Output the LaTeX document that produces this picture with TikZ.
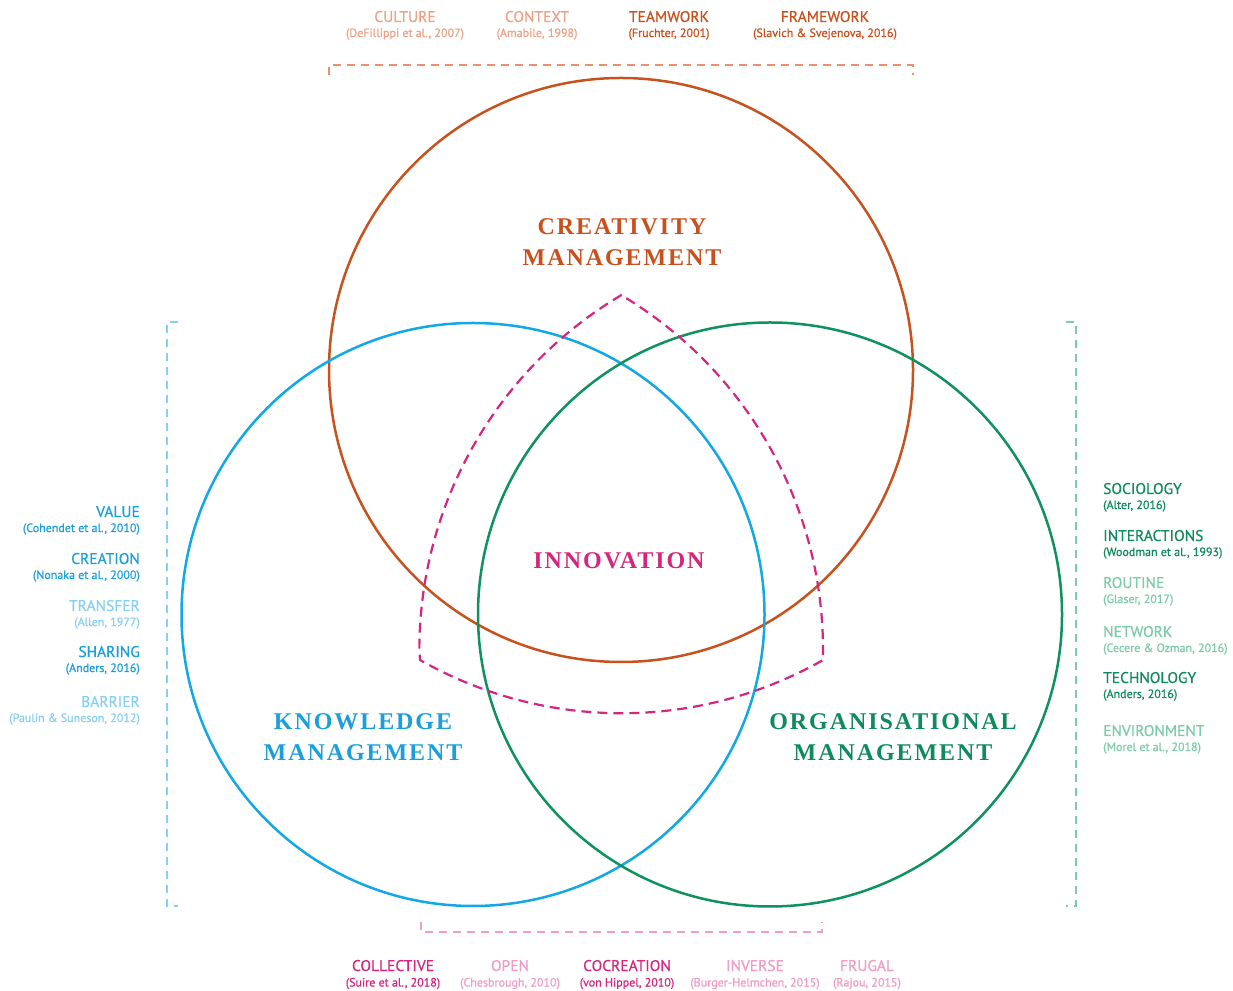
\documentclass[tikz,border=0pt]{standalone}
\usepackage{fontspec}
\setmainfont{PT Sans}
\newfontfamily\headfont[LetterSpace=8]{Liberation Serif}
\newfontfamily\labfont[FakeBold=0.5]{PT Sans}
\newfontfamily\citfont[FakeBold=0.7]{PT Sans}
\definecolor{orangeD}{HTML}{C8521E}
\definecolor{orangeT}{HTML}{C9501C}
\definecolor{orangeL}{HTML}{EBA286}
\definecolor{orangeB}{HTML}{E8916F}
\definecolor{blueD}{HTML}{12A8E8}
\definecolor{blueT}{HTML}{1A9FDA}
\definecolor{blueL}{HTML}{86D0F1}
\definecolor{greenD}{HTML}{0F9160}
\definecolor{greenT}{HTML}{0E8A5C}
\definecolor{greenL}{HTML}{7ECBAA}
\definecolor{pinkD}{HTML}{D5267F}
\definecolor{pinkL}{HTML}{EF9CC9}
\tikzset{
  ttl/.style={font=\labfont\fontsize{15.5}{15.5}\selectfont, inner sep=0pt, anchor=base},
  cit/.style={font=\citfont\fontsize{12}{12}\selectfont, inner sep=0pt, anchor=base},
  hd/.style={font=\headfont\bfseries\fontsize{24}{24}\selectfont, inner sep=0pt, anchor=base},
  toleft/.style={anchor=base east},
  toright/.style={anchor=base west},
  ring/.style={line width=2.5pt},
  brk/.style={line width=1.3pt, dash pattern=on 8pt off 6pt},
}
\begin{document}
\begin{tikzpicture}[x=1pt,y=1pt]
\useasboundingbox (0,0) rectangle (1233,990);
\fill[white] (0,0) rectangle (1233,990);

% circles
\draw[ring, orangeD] (621,620) circle[radius=292pt];
\draw[ring, blueD] (473,375.5) circle[radius=291.5pt];
\draw[ring, greenD] (770,375.5) circle[radius=292pt];

% innovation dashed shape
\draw[pinkD, line width=2.2pt, dash pattern=on 10pt off 6pt, line join=round]
  (621.5,695) arc[start angle=120.7, end angle=180, radius=413pt]
  -- (420,330) arc[start angle=240.4, end angle=299.6, radius=408pt]
  -- (823,340) arc[start angle=0, end angle=59.3, radius=413pt] -- cycle;

% brackets
\draw[brk, orangeB] (329,915) -- (329,925) -- (913,925) -- (913,915);
\draw[brk, blueL] (178,668) -- (167,668) -- (167,84) -- (178,84);
\draw[brk, greenL] (1066,668) -- (1076,668) -- (1076,84) -- (1066,84);
\draw[brk, pinkL] (421,68) -- (421,58) -- (822,58) -- (822,68);

% headings
\node[hd, orangeT] (cr1) at (622,755) {CREATIVITY};
\node[hd, orangeT] (cr2) at (622,724) {MANAGEMENT};
\node[hd, pinkD] (inno) at (619,421) {INNOVATION};
\node[hd, blueT] (kn1) at (363,260) {KNOWLEDGE};
\node[hd, blueT] (kn2) at (363,229) {MANAGEMENT};
\node[hd, greenT] (or1) at (893,260) {ORGANISATIONAL};
\node[hd, greenT] (or2) at (893,229) {MANAGEMENT};

% top labels
\node[ttl, orangeL] (t1) at (405,968) {CULTURE};
\node[cit, orangeL] (t1c) at (405,953) {(DeFillippi et al., 2007)};
\node[ttl, orangeL] (t2) at (537,968) {CONTEXT};
\node[cit, orangeL] (t2c) at (537,953) {(Amabile, 1998)};
\node[ttl, orangeT] (t3) at (669,968) {TEAMWORK};
\node[cit, orangeT] (t3c) at (669,953) {(Fruchter, 2001)};
\node[ttl, orangeT] (t4) at (825,968) {FRAMEWORK};
\node[cit, orangeT] (t4c) at (825,953) {(Slavich \& Svejenova, 2016)};

% left labels
\node[ttl, toleft, blueT] (l1) at (140,473) {VALUE};
\node[cit, toleft, blueT] (l1c) at (140,458) {(Cohendet et al., 2010)};
\node[ttl, toleft, blueT] (l2) at (140,426) {CREATION};
\node[cit, toleft, blueT] (l2c) at (140,411) {(Nonaka et al., 2000)};
\node[ttl, toleft, blueL] (l3) at (140,379) {TRANSFER};
\node[cit, toleft, blueL] (l3c) at (140,364) {(Allen, 1977)};
\node[ttl, toleft, blueT] (l4) at (140,333) {SHARING};
\node[cit, toleft, blueT] (l4c) at (140,318) {(Anders, 2016)};
\node[ttl, toleft, blueL] (l5) at (140,283) {BARRIER};
\node[cit, toleft, blueL] (l5c) at (140,268) {(Paulin \& Suneson, 2012)};

% right labels
\node[ttl, toright, greenT] (r1) at (1103,496) {SOCIOLOGY};
\node[cit, toright, greenT] (r1c) at (1103,481) {(Alter, 2016)};
\node[ttl, toright, greenT] (r2) at (1103,449) {INTERACTIONS};
\node[cit, toright, greenT] (r2c) at (1103,434) {(Woodman et al., 1993)};
\node[ttl, toright, greenL] (r3) at (1103,402) {ROUTINE};
\node[cit, toright, greenL] (r3c) at (1103,387) {(Glaser, 2017)};
\node[ttl, toright, greenL] (r4) at (1103,353) {NETWORK};
\node[cit, toright, greenL] (r4c) at (1103,338) {(Cecere \& Ozman, 2016)};
\node[ttl, toright, greenT] (r5) at (1103,307) {TECHNOLOGY};
\node[cit, toright, greenT] (r5c) at (1103,292) {(Anders, 2016)};
\node[ttl, toright, greenL] (r6) at (1103,254) {ENVIRONMENT};
\node[cit, toright, greenL] (r6c) at (1103,239) {(Morel et al., 2018)};

% bottom labels
\node[ttl, pinkD] (b1) at (393,19) {COLLECTIVE};
\node[cit, pinkD] (b1c) at (393,3.5) {(Suire et al., 2018)};
\node[ttl, pinkL] (b2) at (510,19) {OPEN};
\node[cit, pinkL] (b2c) at (510,3.5) {(Chesbrough, 2010)};
\node[ttl, pinkD] (b3) at (627,19) {COCREATION};
\node[cit, pinkD] (b3c) at (627,3.5) {(von Hippel, 2010)};
\node[ttl, pinkL] (b4) at (755,19) {INVERSE};
\node[cit, pinkL] (b4c) at (755,3.5) {(Burger-Helmchen, 2015)};
\node[ttl, pinkL] (b5) at (867,19) {FRUGAL};
\node[cit, pinkL] (b5c) at (867,3.5) {(Rajou, 2015)};
\end{tikzpicture}
\end{document}
